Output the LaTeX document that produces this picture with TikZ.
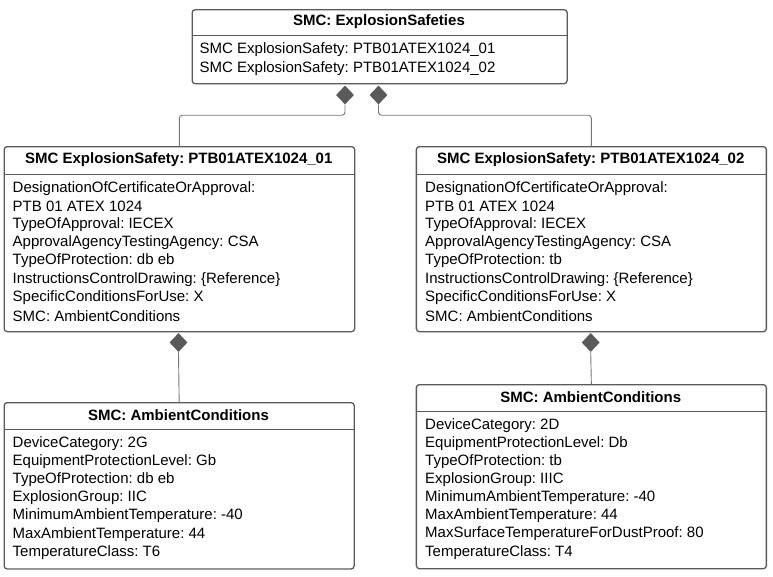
\documentclass[tikz,border=0pt]{standalone}
\usepackage{fontspec}
\setmainfont{Liberation Sans}
\usetikzlibrary{shapes.geometric}

\definecolor{boxgray}{HTML}{5A5A5A}
\definecolor{linegray}{HTML}{767676}

\tikzset{
    cls/.style={draw=boxgray, line width=1.3pt, rounded corners=3pt, anchor=north west, inner sep=0pt},
    sep/.style={draw=boxgray, line width=1.3pt},
    hdr/.style={font=\fontsize{15}{18}\selectfont\bfseries, inner sep=0pt},
    attr/.style={font=\fontsize{15}{18}\selectfont, anchor=west, inner sep=0pt},
    comp/.style={diamond, fill=boxgray, inner sep=0pt, minimum width=18pt, minimum height=19pt},
    conn/.style={draw=linegray, line width=0.9pt, rounded corners=3pt}
}
\frenchspacing

\begin{document}
\begin{tikzpicture}[x=1pt,y=-1pt]
    \useasboundingbox (0,0) rectangle (773,576);

    % 顶部类
    \node[cls, minimum width=375pt, minimum height=74pt] (top) at (191.5,9) {};
    \node[hdr] (tophd) at (379,21.5) {SMC: ExplosionSafeties};
    \draw[sep] (top.west |- 0,35.5) -- (top.east |- 0,35.5);
    \node[attr] (top1) at (199.5,50) {SMC ExplosionSafety: PTB01ATEX1024\_01};
    \node[attr] (top2) at (199.5,68.5) {SMC ExplosionSafety: PTB01ATEX1024\_02};

    % 中间两个类
    \node[cls, minimum width=350.5pt, minimum height=185pt] (es1) at (3.5,146) {};
    \node[hdr] (es1hd) at (178.75,160) {SMC ExplosionSafety: PTB01ATEX1024\_01};
    \draw[sep] (es1.west |- 0,174.5) -- (es1.east |- 0,174.5);
    \foreach \t [count=\i] in {DesignationOfCertificateOrApproval:, PTB 01 ATEX 1024,
        TypeOfApproval: IECEX, ApprovalAgencyTestingAgency: CSA, TypeOfProtection: db eb,
        InstructionsControlDrawing: \{Reference\}, SpecificConditionsForUse: X, SMC: AmbientConditions}
        \node[attr] (es1-\i) at (12.5,{188.3+18.2*(\i-1)}) {\t};

    \node[cls, minimum width=350pt, minimum height=185pt] (es2) at (415.7,146) {};
    \node[hdr] (es2hd) at (590.7,160) {SMC ExplosionSafety: PTB01ATEX1024\_02};
    \draw[sep] (es2.west |- 0,174.5) -- (es2.east |- 0,174.5);
    \foreach \t [count=\i] in {DesignationOfCertificateOrApproval:, PTB 01 ATEX 1024,
        TypeOfApproval: IECEX, ApprovalAgencyTestingAgency: CSA, TypeOfProtection: tb,
        InstructionsControlDrawing: \{Reference\}, SpecificConditionsForUse: X, SMC: AmbientConditions}
        \node[attr] (es2-\i) at (425,{188.3+18.2*(\i-1)}) {\t};

    % 底部两个类
    \node[cls, minimum width=350pt, minimum height=166.3pt] (ac1) at (3.5,402) {};
    \node[hdr] (ac1hd) at (178.5,415) {SMC: AmbientConditions};
    \draw[sep] (ac1.west |- 0,429.5) -- (ac1.east |- 0,429.5);
    \foreach \t [count=\i] in {DeviceCategory: 2G, EquipmentProtectionLevel: Gb,
        TypeOfProtection: db eb, ExplosionGroup: IIC, MinimumAmbientTemperature: -40,
        MaxAmbientTemperature: 44, TemperatureClass: T6}
        \node[attr] (ac1-\i) at (12.5,{443.3+18.2*(\i-1)}) {\t};

    \node[cls, minimum width=350pt, minimum height=184pt] (ac2) at (415.7,384) {};
    \node[hdr] (ac2hd) at (590.7,396.7) {SMC: AmbientConditions};
    \draw[sep] (ac2.west |- 0,411.7) -- (ac2.east |- 0,411.7);
    \foreach \t [count=\i] in {DeviceCategory: 2D, EquipmentProtectionLevel: Db,
        TypeOfProtection: tb, ExplosionGroup: IIIC, MinimumAmbientTemperature: -40,
        MaxAmbientTemperature: 44, MaxSurfaceTemperatureForDustProof: 80, TemperatureClass: T4}
        \node[attr] (ac2-\i) at (425,{425.5+18.1*(\i-1)}) {\t};

    % 组合关系
    \node[comp] (d1) at (345,95) {};
    \node[comp] (d2) at (378.5,95) {};
    \node[comp] (d3) at (178.5,342.5) {};
    \node[comp] (d4) at (590.7,342.5) {};

    \draw[conn] (d1.south) -- ++(0,10.5) -| (es1.north);
    \draw[conn] (d2.south) -- ++(0,10.5) -| (es2.north);
    \draw[conn] (d3.south) -- (ac1.north);
    \draw[conn] (d4.south) -- (ac2.north);
\end{tikzpicture}
\end{document}
